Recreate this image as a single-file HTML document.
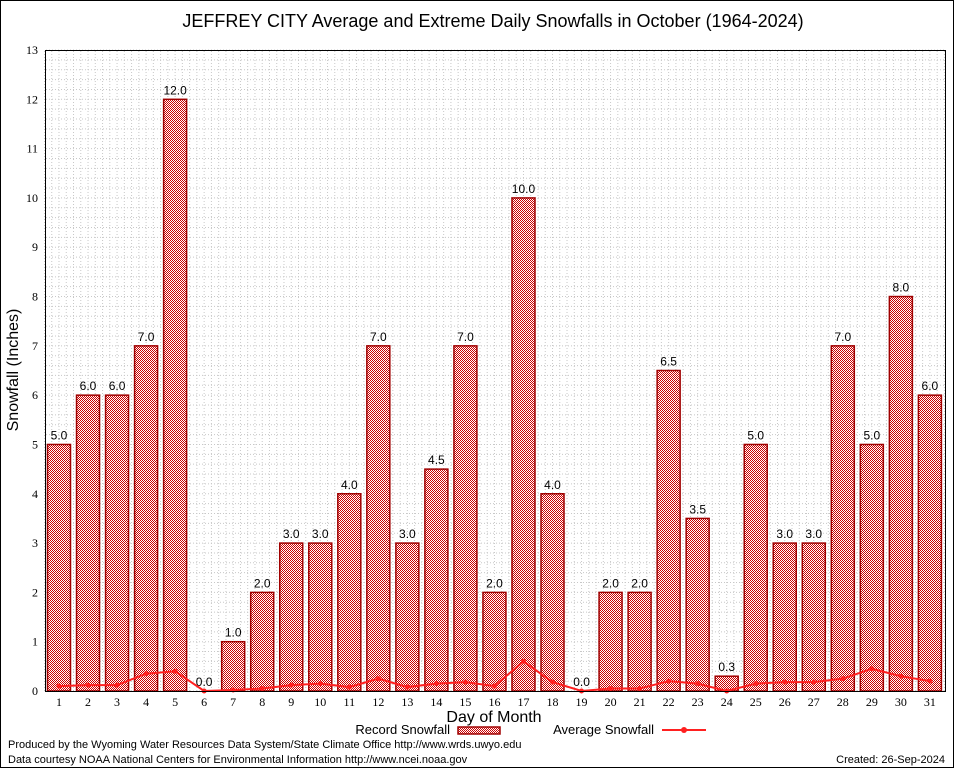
<!DOCTYPE html>
<html><head><meta charset="utf-8"><style>
body{margin:0;background:#fff}
svg{display:block;font-family:"Liberation Sans",sans-serif}
</style></head><body>
<svg id="chart" width="954" height="768" viewBox="0 0 954 768">
<defs>
<pattern id="hatch" width="2" height="2" patternUnits="userSpaceOnUse">
<rect width="2" height="2" fill="#ffffff"/>
<rect x="0" y="0" width="1" height="1" fill="#cc0000"/>
<rect x="1" y="1" width="1" height="1" fill="#cc0000"/>
</pattern>
</defs>
<rect x="0.5" y="0.5" width="953" height="767" fill="#fff" stroke="#000"/>
<text x="493" y="27" font-size="18" text-anchor="middle">JEFFREY CITY Average and Extreme Daily Snowfalls in October (1964-2024)</text>
<g id="grid"></g>
<g id="bars"></g>
<g id="avg"></g>
<rect x="45.5" y="50.5" width="900" height="641" fill="none" stroke="#000"/>
<g id="axes" font-family="'Liberation Serif',serif" font-size="12"></g>
<text x="18" y="370" font-size="16" text-anchor="middle" transform="rotate(-90 18 370)">Snowfall (Inches)</text>
<text x="494" y="722" font-size="16" text-anchor="middle">Day of Month</text>
<g>
<text x="450" y="734" font-size="13" text-anchor="end">Record Snowfall</text>
<rect x="458" y="727" width="42" height="7" fill="url(#hatch)" stroke="#a00000" stroke-width="1.5"/>
</g>
<g>
<text x="654" y="734" font-size="13" text-anchor="end">Average Snowfall</text>
<line x1="662" y1="730" x2="706" y2="730" stroke="#ff2020" stroke-width="2"/>
<circle cx="684" cy="730" r="3" fill="#ff2020"/>
</g>
<text x="8" y="748" font-size="11">Produced by the Wyoming Water Resources Data System/State Climate Office http://www.wrds.uwyo.edu</text>
<text x="8" y="763" font-size="11">Data courtesy NOAA National Centers for Environmental Information http://www.ncei.noaa.gov</text>
<text x="945" y="763" font-size="11" text-anchor="end">Created: 26-Sep-2024</text>
</svg>
<script>
const days=[1,2,3,4,5,6,7,8,9,10,11,12,13,14,15,16,17,18,19,20,21,22,23,24,25,26,27,28,29,30,31];
const records=[5,6,6,7,12,0,1,2,3,3,4,7,3,4.5,7,2,10,4,0,2,2,6.5,3.5,0.3,5,3,3,7,5,8,6];
const averages=[0.1,0.12,0.12,0.35,0.4,0,0.02,0.05,0.12,0.15,0.08,0.25,0.08,0.15,0.18,0.1,0.6,0.18,0,0.05,0.05,0.2,0.15,0,0.15,0.18,0.18,0.25,0.45,0.3,0.2];
const yTicks=[0,1,2,3,4,5,6,7,8,9,10,11,12,13];
const NS="http://www.w3.org/2000/svg";
const x=d=>59+(d-1)*29.03;
const y=v=>691-v*(641/13);
function mk(tag,attrs,parent,txt){const e=document.createElementNS(NS,tag);for(const k in attrs)e.setAttribute(k,attrs[k]);if(txt!==undefined)e.textContent=txt;parent.appendChild(e);return e;}
const grid=document.getElementById('grid'),bars=document.getElementById('bars'),avg=document.getElementById('avg'),axes=document.getElementById('axes');
for(let v=0;v<=13;v+=0.2){const g=mk('line',{x1:46,x2:945,y1:y(v),y2:y(v),stroke:'#c8c8c8','stroke-dasharray':'1,2'},grid);

}
for(let d=0.5;d<=31.5;d+=0.25){const g=mk('line',{x1:x(d),x2:x(d),y1:51,y2:691,stroke:'#c8c8c8','stroke-dasharray':'1,2'},grid);

}
days.forEach((d,i)=>{
const v=records[i];
const r=mk('rect',{x:x(d)-11.5,y:y(v),width:23,height:y(0)-y(v),fill:'url(#hatch)',stroke:'#a00000','stroke-width':1.5},bars);


const t=mk('text',{x:x(d),y:y(v)-5,'font-size':12,'text-anchor':'middle'},bars,v.toFixed(1));


const tk=mk('text',{x:x(d),y:706,'text-anchor':'middle'},axes,String(d));


});
const pl=mk('polyline',{points:days.map((d,i)=>x(d)+','+y(averages[i])).join(' '),fill:'none',stroke:'#ff2020','stroke-width':2},avg);


days.forEach((d,i)=>{const c=mk('circle',{cx:x(d),cy:y(averages[i]),r:2.5,fill:'#ff2020'},avg);

});
yTicks.forEach(v=>{const t=mk('text',{x:38,y:y(v)+4,'text-anchor':'end'},axes,String(v));

});
</script>
</body></html>
